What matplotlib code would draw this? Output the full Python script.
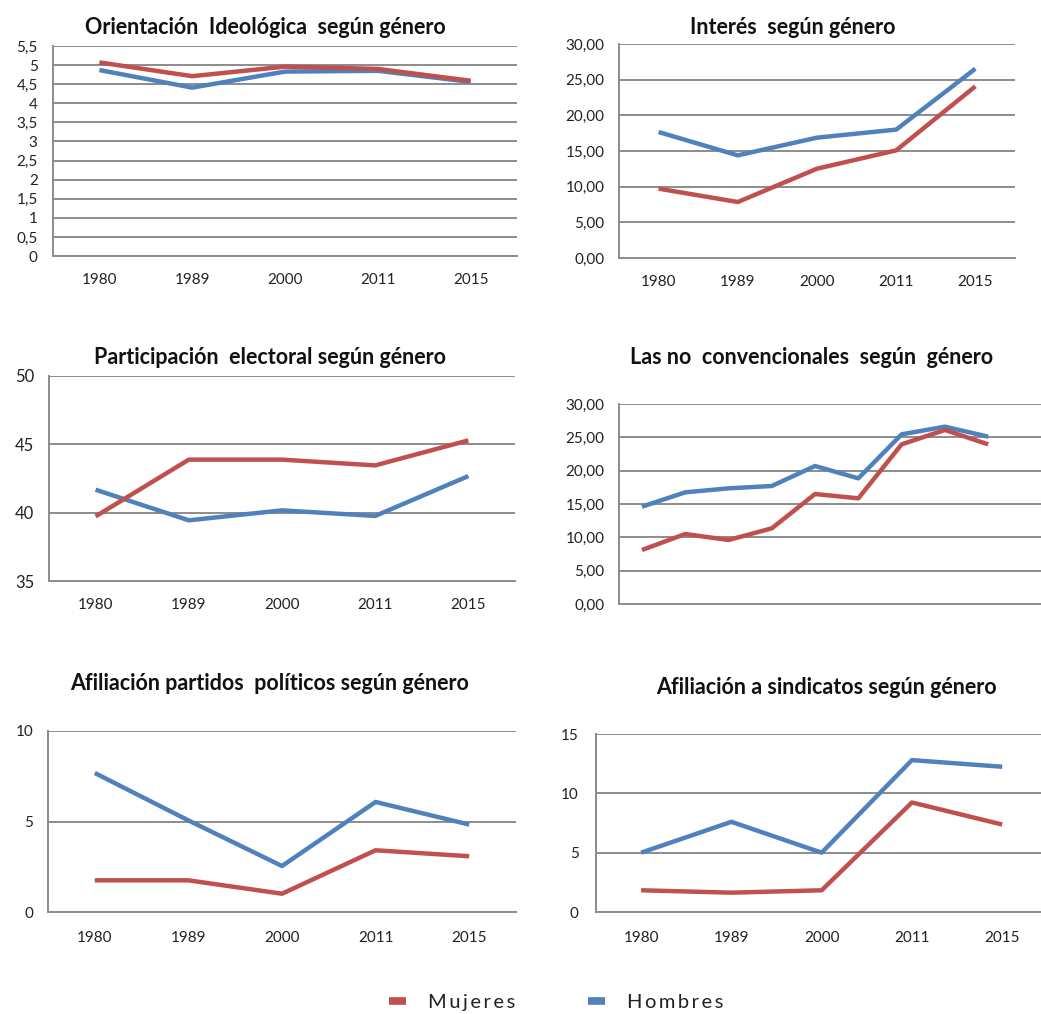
import matplotlib
matplotlib.use("Agg")
import matplotlib.pyplot as plt
from matplotlib.lines import Line2D
from matplotlib.ticker import FuncFormatter

plt.rcParams['font.family'] = ['Lato', 'DejaVu Sans']

years = ["1980", "1989", "2000", "2011", "2015"]

ideo_mujeres = [5.07, 4.71, 4.96, 4.90, 4.59]
ideo_hombres = [4.87, 4.41, 4.83, 4.85, 4.56]

interes_mujeres = [9.72, 7.85, 12.52, 15.09, 24.07]
interes_hombres = [17.66, 14.39, 16.87, 18.00, 26.54]

part_mujeres = [39.73, 43.88, 43.88, 43.46, 45.29]
part_hombres = [41.68, 39.44, 40.17, 39.76, 42.68]

noconv_mujeres = [8.1, 10.5, 9.6, 11.35, 16.5, 15.85, 23.95, 26.1, 23.95]
noconv_hombres = [14.6, 16.75, 17.35, 17.7, 20.7, 18.85, 25.45, 26.6, 25.1]

partidos_mujeres = [1.75, 1.75, 1.01, 3.41, 3.08]
partidos_hombres = [7.68, 5.06, 2.54, 6.08, 4.83]

sind_mujeres = [1.83, 1.63, 1.83, 9.23, 7.37]
sind_hombres = [5.0, 7.6, 5.0, 12.8, 12.24]

titles = ["Orientación  Ideológica  según género",
          "Interés  según género",
          "Participación  electoral según género",
          "Las no  convencionales  según  género",
          "Afiliación partidos  políticos según género",
          "Afiliación a sindicatos según género"]

legend_labels = ["Mujeres", "Hombres"]

RED = "#C0504D"
BLUE = "#4F81BD"
GRID = "#8C8C8C"

W, H = 1041, 1014
fig = plt.figure(figsize=(W / 100, H / 100), dpi=100)

TFS = 15.5
LFS = 11


def add_ax(l, r, t, b):
    return fig.add_axes([l / W, 1 - b / H, (r - l) / W, (b - t) / H])


def comma_fmt(dec):
    def f(v, pos):
        if dec == 0:
            s = f"{v:.1f}"
            if s.endswith(".0"):
                s = s[:-2]
            return s.replace(".", ",")
        return f"{v:.{dec}f}".replace(".", ",")
    return FuncFormatter(f)


def style(ax, yticks, ymin, ymax, dec, xlabels, n, xlim=None, fs=LFS, xpad=12.5, ypad=10.5):
    ax.set_ylim(ymin, ymax)
    ax.set_yticks(yticks)
    ax.yaxis.set_major_formatter(comma_fmt(dec))
    ax.grid(axis='y', color=GRID, linewidth=1.4)
    ax.set_axisbelow(True)
    for s in ['top', 'right']:
        ax.spines[s].set_visible(False)
    for s in ['left', 'bottom']:
        ax.spines[s].set_color(GRID)
        ax.spines[s].set_linewidth(1.4)
    ax.set_xticks(range(n))
    if xlabels is None:
        ax.set_xticklabels([])
    else:
        ax.set_xticklabels(xlabels)
    if xlim is None:
        ax.set_xlim(-0.5, n - 0.5)
    else:
        ax.set_xlim(*xlim)
    ax.tick_params(axis='x', length=0, pad=xpad, labelsize=fs, colors='#222222')
    ax.tick_params(axis='y', length=0, pad=ypad, labelsize=fs, colors='#222222')
    ax.patch.set_alpha(0)


def plot_pair(ax, m, h):
    x = list(range(len(m)))
    ax.plot(x, h, color=BLUE, linewidth=3.2, solid_capstyle='butt', solid_joinstyle='round')
    ax.plot(x, m, color=RED, linewidth=3.2, solid_capstyle='butt', solid_joinstyle='round')


def title(x, y, s):
    fig.text(x / W, 1 - y / H, s, ha='center', va='center', fontsize=TFS,
             fontweight='bold', color='#111111')


# Panel 1
ax1 = add_ax(53, 517, 46, 256)
plot_pair(ax1, ideo_mujeres, ideo_hombres)
style(ax1, [i * 0.5 for i in range(12)], 0, 5.5, 0, years, 5, ypad=11)
title(265, 27, titles[0])

# Panel 2
ax2 = add_ax(619, 1015, 44, 258)
plot_pair(ax2, interes_mujeres, interes_hombres)
style(ax2, [0, 5, 10, 15, 20, 25, 30], 0, 30, 2, years, 5)
title(793, 27, titles[1])

# Panel 3
ax3 = add_ax(49, 515, 376, 581)
plot_pair(ax3, part_mujeres, part_hombres)
style(ax3, [35, 40, 45, 50], 35, 50, 0, years, 5, ypad=10.5)
ax3.tick_params(axis='y', labelsize=12)
title(270, 358, titles[2])

# Panel 4
ax4 = add_ax(619, 1041, 404, 604)
plot_pair(ax4, noconv_mujeres, noconv_hombres)
style(ax4, [0, 5, 10, 15, 20, 25, 30], 0, 30, 2, None, 9, xlim=(-0.53, 9.22))
title(812, 357, titles[3])

# Panel 5
ax5 = add_ax(48, 516, 731, 912)
plot_pair(ax5, partidos_mujeres, partidos_hombres)
style(ax5, [0, 5, 10], 0, 10, 0, years, 5, xpad=13.5)
title(270, 683, titles[4])

# Panel 6
ax6 = add_ax(596, 1041, 734, 912)
plot_pair(ax6, sind_mujeres, sind_hombres)
style(ax6, [0, 5, 10, 15], 0, 15, 0, years, 5, xlim=(-0.5, 4.43), ypad=12.5, xpad=13.5)
title(826, 688, titles[5])

spaced = ["\u2009".join(s) for s in legend_labels]
handles = [Line2D([0], [0], color=RED, linewidth=5.5, solid_capstyle='butt'),
           Line2D([0], [0], color=BLUE, linewidth=5.5, solid_capstyle='butt')]
fig.legend(handles, spaced, loc='center',
           bbox_to_anchor=(556 / W, 1 - 1002 / H), ncol=2, frameon=False,
           handlelength=0.85, handletextpad=1.1, columnspacing=3.6, fontsize=14.5,
           labelcolor='#222222')

fig.savefig("out.png", dpi=100, facecolor='white')
